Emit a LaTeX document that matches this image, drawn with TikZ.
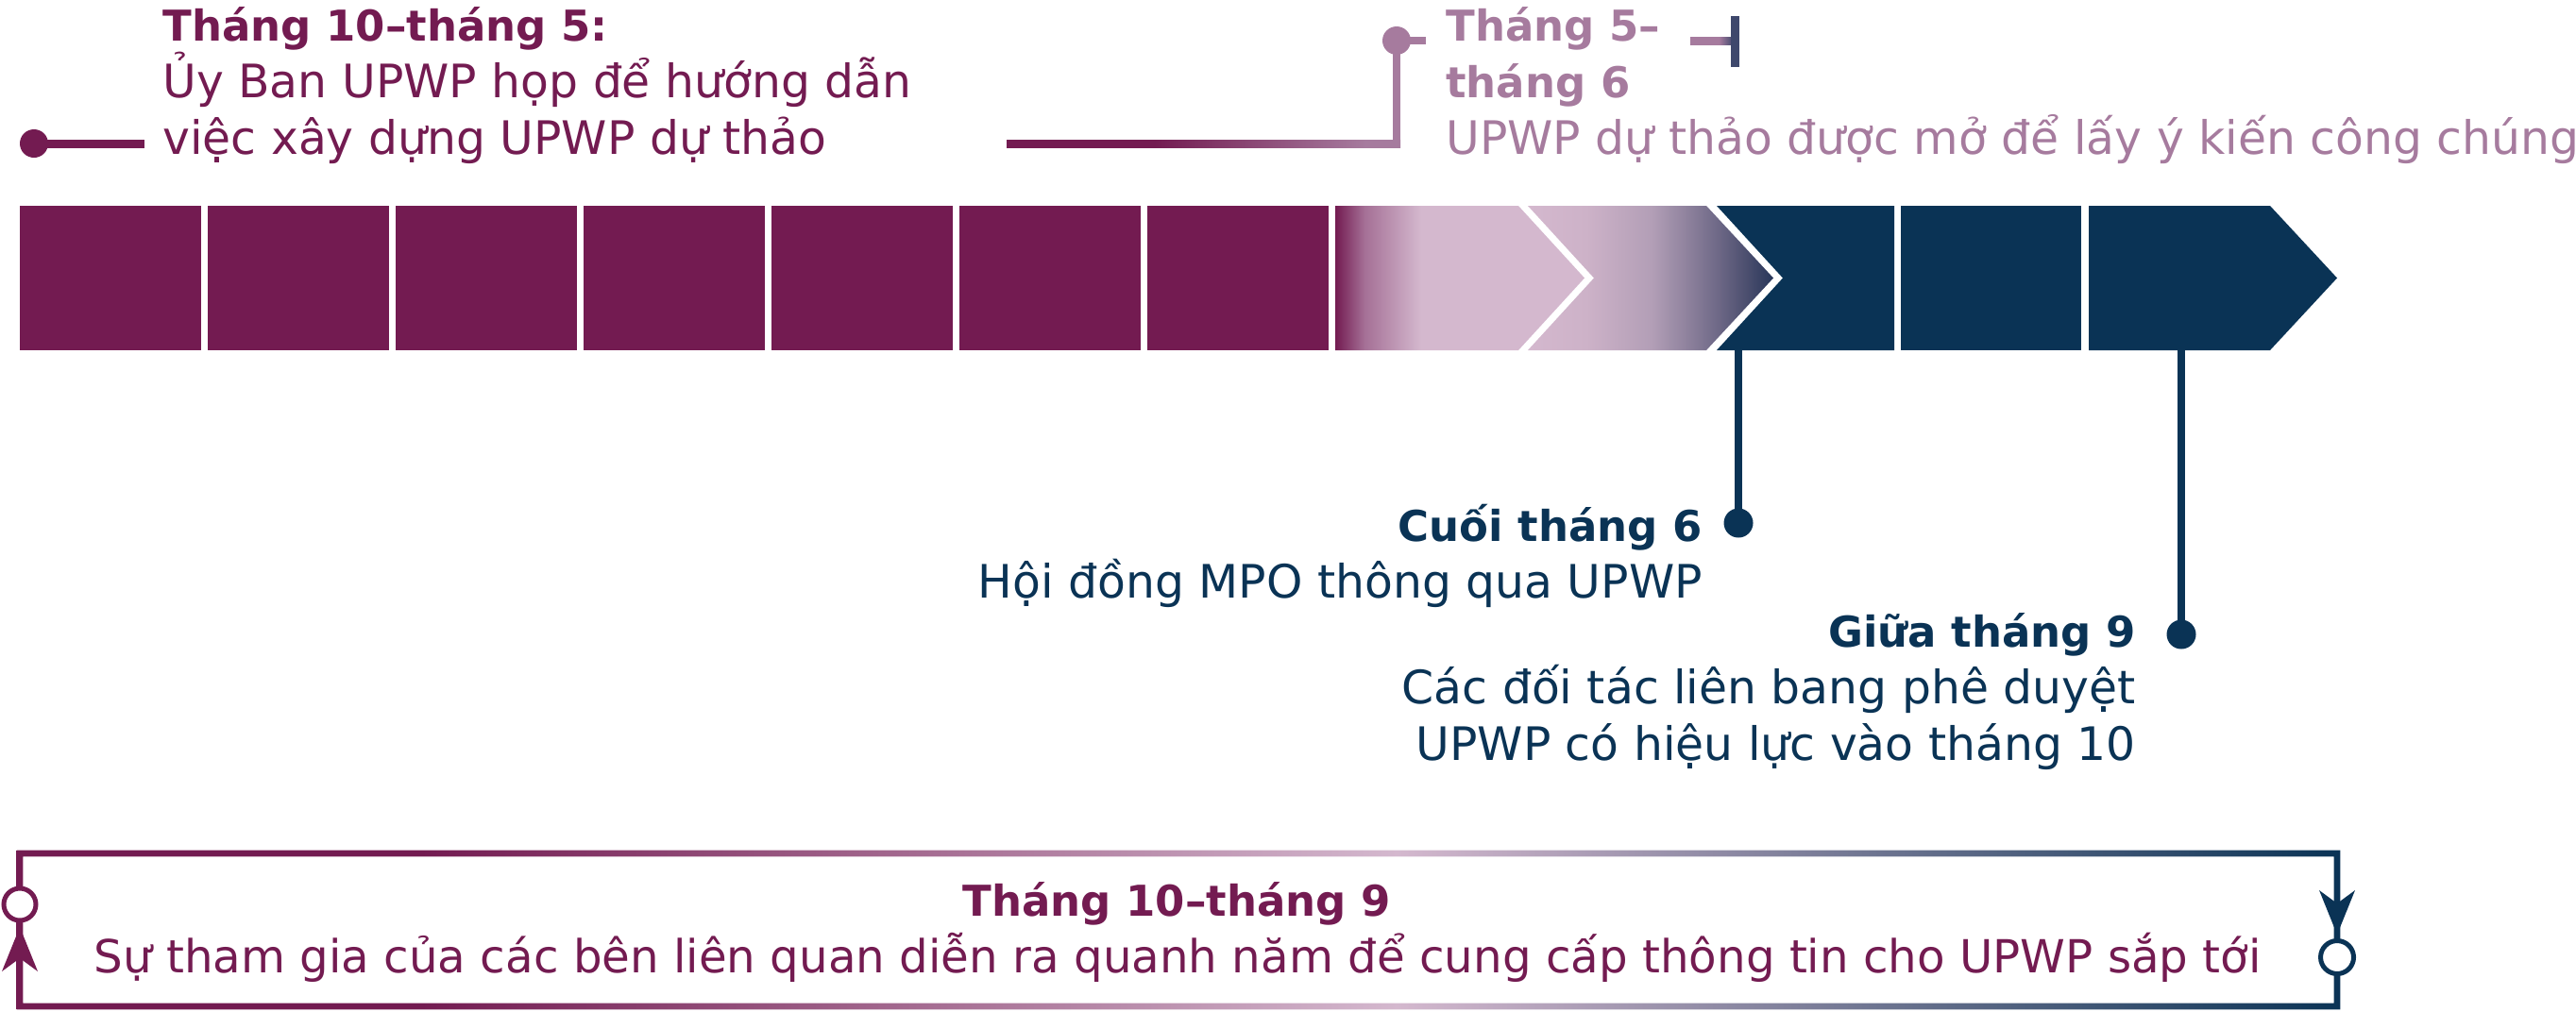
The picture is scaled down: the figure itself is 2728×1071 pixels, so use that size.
\documentclass[tikz,border=0pt]{standalone}
\usepackage{fontspec}
\setmainfont{DejaVu Sans}
\definecolor{cpurple}{RGB}{115,27,81}
\definecolor{cnavy}{RGB}{10,51,85}
\definecolor{cmauve}{RGB}{166,123,158}
\definecolor{cpink}{RGB}{212,184,206}
\definecolor{ctick}{RGB}{62,72,108}
\definecolor{gA1}{RGB}{165,112,150}
\definecolor{gB1}{RGB}{205,178,200}
\definecolor{gB2}{RGB}{178,158,182}
\definecolor{gB3}{RGB}{112,106,136}
\definecolor{gB4}{RGB}{75,78,110}
\definecolor{gB5}{RGB}{40,55,90}
\pgfdeclarehorizontalshading{gradA}{100bp}{color(0bp)=(cpurple); color(25bp)=(cpurple); color(30.9bp)=(gA1); color(42.2bp)=(cpink); color(100bp)=(cpink)}
\pgfdeclarehorizontalshading{gradB}{100bp}{color(0bp)=(cpink); color(25bp)=(cpink); color(36.9bp)=(gB1); color(50.4bp)=(gB2); color(63.3bp)=(gB3); color(69.6bp)=(gB4); color(75bp)=(gB5); color(100bp)=(gB5)}
\pgfdeclarehorizontalshading{gradTop}{100bp}{color(0bp)=(cpurple); color(43.8bp)=(cpurple); color(70.6bp)=(cmauve); color(100bp)=(cmauve)}
\pgfdeclarehorizontalshading{gradTick}{100bp}{color(0bp)=(cmauve); color(58bp)=(cmauve); color(75bp)=(ctick); color(100bp)=(ctick)}
\pgfdeclarehorizontalshading{gradLoop}{100bp}{color(0bp)=(cpurple); color(25bp)=(cpurple); color(33.7bp)=(cpurple); color(54.7bp)=(cpink); color(75bp)=(cnavy); color(100bp)=(cnavy)}
\tikzset{
  reg/.style={font=\fontsize{24.4}{30}\selectfont, inner sep=0pt},
  regb/.style={font=\fontsize{24.15}{30}\selectfont, inner sep=0pt},
  bld/.style={font=\bfseries\fontsize{22.5}{30}\selectfont, inner sep=0pt},
  link/.style={line width=4pt},
}
\begin{document}
\begin{tikzpicture}[x=0.5pt,y=-0.5pt]
\useasboundingbox (0,0) rectangle (2728,1071);

% ---- timeline bar ----
\foreach \i in {0,...,6} {
  \fill[cpurple] ({21+199*\i},218) rectangle ({213+199*\i},371);
}
\shade[shading=gradA] (1414,218) -- (1608,218) -- (1678,294.5) -- (1608,371) -- (1414,371) -- cycle;
\shade[shading=gradB] (1618,218) -- (1807,218) -- (1878,294.5) -- (1807,371) -- (1618,371) -- (1688,294.5) -- cycle;
\fill[cnavy] (1818,218) -- (2006,218) -- (2006,371) -- (1818,371) -- (1888,294.5) -- cycle;
\fill[cnavy] (2013,218) rectangle (2204,371);
\fill[cnavy] (2212,218) -- (2404,218) -- (2475,294.5) -- (2404,371) -- (2212,371) -- cycle;

% ---- top left label ----
\coordinate (pA) at (36,152);
\coordinate (pAe) at (153,152);
\draw[cpurple, line width=4.5pt] (pA) -- (pAe);
\fill[cpurple] (pA) circle[radius=7.5pt];
\node[bld, text=cpurple, anchor=base west] (t1a) at (172,43) {Tháng 10–tháng 5:};
\node[reg, text=cpurple, anchor=base west] (t1b) at (172,103) {Ủy Ban UPWP họp để hướng dẫn};
\node[reg, text=cpurple, anchor=base west] (t1c) at (172,163) {việc xây dựng UPWP dự thảo};

% ---- top right label ----
\coordinate (qA) at (1066,152);
\coordinate (qB) at (1479,152);
\coordinate (qC) at (1479,43);
\coordinate (qD) at (1510,43);
\shade[shading=gradTop] (1066,148) rectangle (1483,156);
\draw[cmauve, link] (1479,156) -- (qC) -- (qD);
\fill[cmauve] (qC) circle[radius=7.5pt];
\node[bld, text=cmauve, anchor=base west] (t2a) at (1531,43) {Tháng 5–};
\node[bld, text=cmauve, anchor=base west] (t2b) at (1531,103) {tháng 6};
\node[reg, text=cmauve, anchor=base west] (t2c) at (1531,163) {UPWP dự thảo được mở để lấy ý kiến công chúng};
\coordinate (tkA) at (1790,43);
\coordinate (tkB) at (1837,43);
\shade[shading=gradTick] (1790,39) rectangle (1836,47);
\fill[ctick] (1833,17) rectangle (1842,71);

% ---- lower milestones ----
\coordinate (m1t) at (1841,371);
\coordinate (m1b) at (1841,554);
\draw[cnavy, link] (m1t) -- (m1b);
\fill[cnavy] (m1b) circle[radius=7.75pt];
\node[bld, text=cnavy, anchor=base east] (t3a) at (1803,573) {Cuối tháng 6};
\node[reg, text=cnavy, anchor=base east] (t3b) at (1803,633) {Hội đồng MPO thông qua UPWP};

\coordinate (m2t) at (2310,371);
\coordinate (m2b) at (2310,672);
\draw[cnavy, link] (m2t) -- (m2b);
\fill[cnavy] (m2b) circle[radius=7.75pt];
\node[bld, text=cnavy, anchor=base east] (t4a) at (2262,685) {Giữa tháng 9};
\node[reg, text=cnavy, anchor=base east] (t4b) at (2262,745) {Các đối tác liên bang phê duyệt};
\node[reg, text=cnavy, anchor=base east] (t4c) at (2262,805) {UPWP có hiệu lực vào tháng 10};

% ---- bottom loop ----
\shade[shading=gradLoop, even odd rule] (17.7,900.7) rectangle (2478.3,1069.3) (24.3,907.3) rectangle (2471.7,1062.7);
\coordinate (cL) at (21,958);
\coordinate (cR) at (2475,1014);
\fill[cpurple] (21,982) -- (40,1029) -- (21,1015) -- (2,1029) -- cycle;
\draw[cpurple, line width=2.5pt, fill=white] (cL) circle[radius=8.5pt];
\fill[cnavy] (2475,990) -- (2494,943) -- (2475,957) -- (2456,943) -- cycle;
\draw[cnavy, line width=2.5pt, fill=white] (cR) circle[radius=8.75pt];
\node[bld, text=cpurple, anchor=base] (t5a) at (1246,970) {Tháng 10–tháng 9};
\node[regb, text=cpurple, anchor=base] (t5b) at (1247,1030) {Sự tham gia của các bên liên quan diễn ra quanh năm để cung cấp thông tin cho UPWP sắp tới};
\end{tikzpicture}
\end{document}
